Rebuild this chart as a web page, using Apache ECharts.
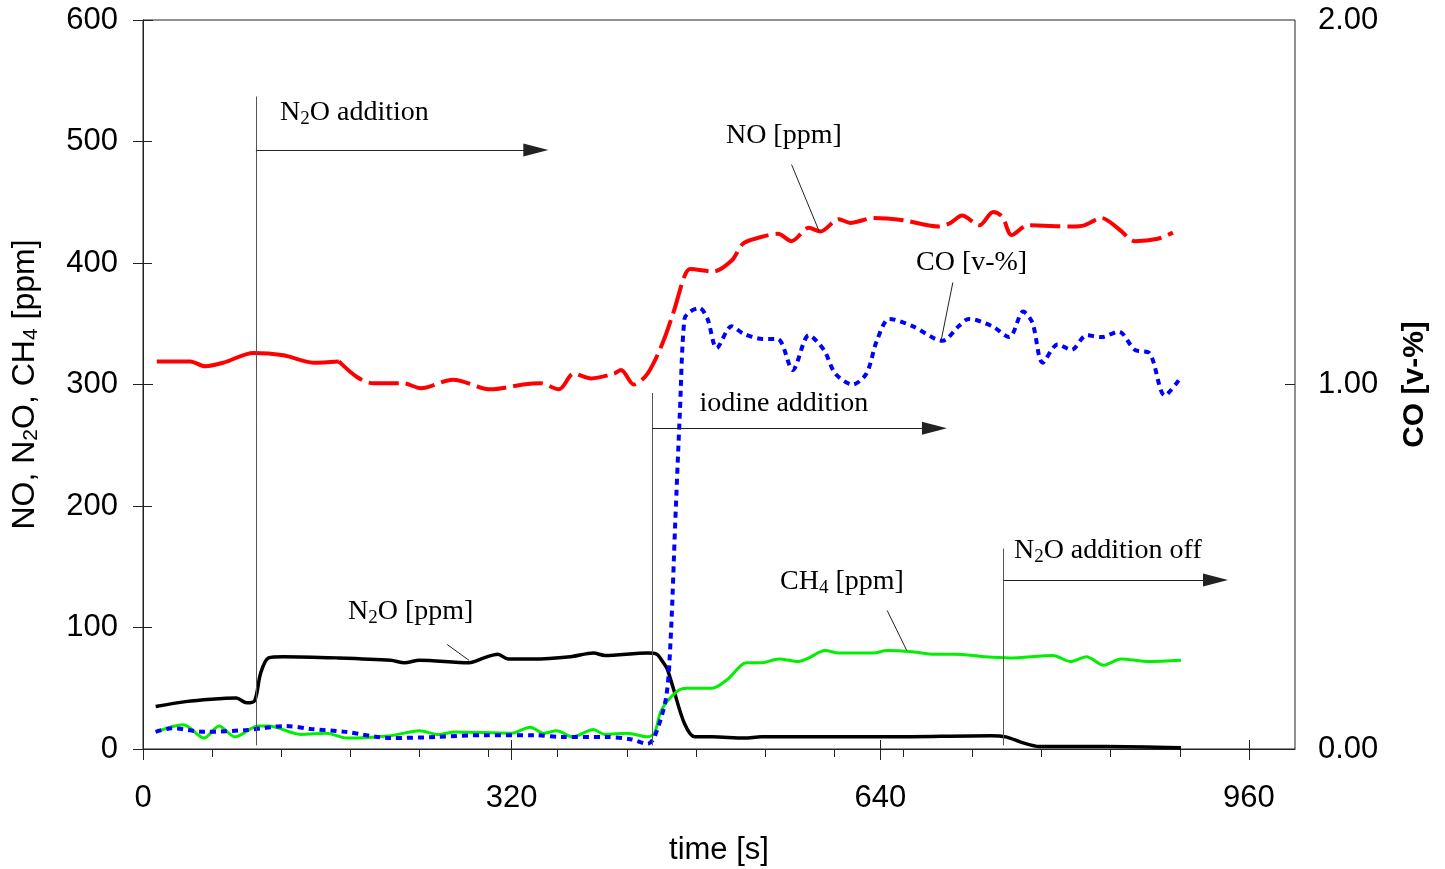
<!DOCTYPE html>
<html>
<head>
<meta charset="utf-8">
<script src="https://cdn.jsdelivr.net/npm/echarts@6/dist/echarts.min.js"></script>
<style>
  html, body { margin: 0; padding: 0; background: #fff; }
  #chart { width: 1445px; height: 869px; }
</style>
</head>
<body>
<div id="chart"></div>
<script>
// time [s] / value pairs
const noPpm = [[12,319],[41,319],[54,315],[70,318],[96,326],[122,324],[148,318],[170,319],[186,306],[200,301],[226,301],[241,297],[269,304],[302,296],[330,300],[345,301],[361,296],[374,309],[389,305],[409,309],[415,312],[426,300],[438,309],[451,334],[461,361],[470,389],[475,395],[495,393],[511,402],[521,416],[535,421],[551,424],[563,418],[578,429],[588,426],[604,436],[614,433],[634,437],[661,435],[691,430],[701,433],[711,439],[726,431],[738,442],[746,438],[754,423],[768,431],[807,430],[817,431],[832,437],[847,428],[861,418],[881,420],[894,425]];

const coPct = [[11,0.047],[25,0.057],[53,0.047],[90,0.052],[124,0.063],[146,0.055],[176,0.047],[215,0.03],[255,0.033],[296,0.038],[339,0.038],[364,0.033],[401,0.033],[423,0.027],[438,0.014],[444,0.033],[454,0.14],[458,0.30],[462,0.62],[466,0.92],[470,1.18],[475,1.20],[483,1.21],[490,1.18],[498,1.10],[511,1.16],[521,1.14],[538,1.125],[551,1.125],[564,1.04],[578,1.135],[591,1.095],[601,1.03],[616,1.0],[628,1.03],[637,1.12],[648,1.18],[668,1.16],[694,1.12],[708,1.16],[717,1.18],[737,1.16],[752,1.13],[764,1.20],[772,1.17],[781,1.06],[794,1.11],[806,1.095],[819,1.135],[832,1.13],[847,1.145],[861,1.095],[874,1.085],[887,0.97],[901,1.02]];

const ch4Ppm = [[11,14],[35,20],[53,9],[66,19],[80,10],[100,19],[109,19],[137,12],[159,13],[177,9],[215,11],[240,15],[256,12],[271,14],[320,13],[336,18],[348,13],[359,15],[373,10],[391,16],[401,12],[420,13],[438,10],[444,13],[450,32],[463,47],[472,50],[494,50],[507,57],[524,71],[537,71],[552,74],[569,72],[578,75],[592,81],[604,79],[634,79],[646,81],[668,80],[687,78],[705,78],[730,76],[752,75],[790,77],[805,72],[819,76],[834,69],[849,74],[873,72],[901,73]];

const n2oPpm = [[11,35],[37,39],[59,41],[81,42],[90,38],[97,40],[102,62],[109,75],[122,76],[168,75],[215,73],[227,71],[240,73],[283,71],[296,75],[308,78],[317,74],[339,74],[371,76],[391,79],[401,77],[438,79],[446,78],[451,72],[455,66],[460,51],[470,21],[479,10],[494,10],[522,9],[537,10],[588,10],[649,10],[736,11],[749,10],[764,5],[778,2],[836,2],[901,1]];

// axis ticks
const xMajor = [0, 320, 640, 960];
const xMinor = [0,60,120,180,240,300,360,420,480,540,600,660,720,780,840,900,960];

// event lines [t, vTop, vBottom], arrows [tStart, tEnd, v], leaders [t1,v1,t2,v2]
const eventLines = [[98,537,3],[442,293,3],[747,165,3]];
const arrows = [[98,341,493],[442,687,264],[747,931,139]];
const leaders = [[563,481,587,426],[703,384,693,337],[264,86,283,73],[646,114,663,81]];
const notes = [
  [119,524,'N{sub|2}O addition'],
  [506,505,'NO [ppm]'],
  [671,400,'CO [v-%]'],
  [483,284,'iodine addition'],
  [756,163,'N{sub|2}O addition off'],
  [553,138,'CH{sub|4} [ppm]'],
  [178,113,'N{sub|2}O [ppm]']
];

const sans = 'Liberation Sans, Arial, sans-serif';
const serif = 'Liberation Serif, Times New Roman, serif';
const axisColor = '#222';

const chart = echarts.init(document.getElementById('chart'));

const markLines = [];
eventLines.forEach(e => markLines.push([{coord:[e[0],e[1]], symbol:'none', lineStyle:{color:'#555'}},{coord:[e[0],e[2]], symbol:'none'}]));
arrows.forEach(a => markLines.push([{coord:[a[0],a[2]], symbol:'none', lineStyle:{color:'#222'}},{coord:[a[1],a[2]], symbol:'triangle', symbolSize:[13,25]}]));
leaders.forEach(l => markLines.push([{coord:[l[0],l[1]], symbol:'none'},{coord:[l[2],l[3]], symbol:'none'}]));

// NO is drawn solid at first, dashed afterwards
const noSolid = noPpm.filter(p => p[0] <= 170);
const noDashed = noPpm.filter(p => p[0] >= 170);

const option = {
  animation: false,
  backgroundColor: '#fff',
  grid: {left: 143, right: 150, top: 20, bottom: 120, show: true, borderColor: axisColor, borderWidth: 1, outerBoundsMode: 'none'},
  xAxis: [
    {
      type: 'value', min: 0, max: 1000,
      name: 'time [s]', nameLocation: 'middle', nameGap: 86,
      nameTextStyle: {fontFamily: sans, fontSize: 31, color: '#000'},
      axisLine: {show: true, onZero: false, lineStyle: {color: axisColor}},
      axisTick: {show: true, length: 11, customValues: xMajor, lineStyle: {color: axisColor}},
      axisLabel: {customValues: xMajor, fontFamily: sans, fontSize: 31, color: '#000', margin: 34},
      splitLine: {show: false}
    },
    {
      type: 'value', min: 0, max: 1000, position: 'bottom',
      axisLine: {show: false},
      axisTick: {show: true, inside: true, length: 9, customValues: xMajor, lineStyle: {color: axisColor}},
      axisLabel: {show: false}, splitLine: {show: false}
    },
    {
      type: 'value', min: 0, max: 1000, position: 'bottom',
      axisLine: {show: false},
      axisTick: {show: true, length: 8, customValues: xMinor, lineStyle: {color: axisColor}},
      axisLabel: {show: false}, splitLine: {show: false}
    }
  ],
  yAxis: [
    {
      type: 'value', min: 0, max: 600, interval: 100, position: 'left',
      name: 'NO, N{sub|2}O, CH{sub|4} [ppm]', nameLocation: 'middle', nameGap: 101, nameRotate: 90,
      nameTextStyle: {fontFamily: sans, fontSize: 32, color: '#000',
        rich: {sub: {fontFamily: sans, fontSize: 21, color: '#000', padding: [13,0,0,0]}}},
      axisLine: {show: true, lineStyle: {color: axisColor}},
      axisTick: {show: true, length: 10, lineStyle: {color: axisColor}},
      axisLabel: {fontFamily: sans, fontSize: 31, color: '#000', margin: 25},
      splitLine: {show: false}
    },
    {
      type: 'value', min: 0, max: 2, interval: 1, position: 'right',
      name: 'CO [v-%]', nameLocation: 'middle', nameGap: 105, nameRotate: 90,
      nameTextStyle: {fontFamily: sans, fontSize: 30, fontWeight: 'bold', color: '#000'},
      axisLine: {show: true, lineStyle: {color: axisColor}},
      axisTick: {show: true, length: 10, lineStyle: {color: axisColor}},
      axisLabel: {fontFamily: sans, fontSize: 31, color: '#000', margin: 23, formatter: v => v.toFixed(2)},
      splitLine: {show: false}
    },
    {
      type: 'value', min: 0, max: 600, interval: 100, position: 'left',
      axisLine: {show: false},
      axisTick: {show: true, inside: true, length: 9, customValues: [0,100,200,300,400,500], lineStyle: {color: axisColor}},
      axisLabel: {show: false}, splitLine: {show: false}
    },
    {
      type: 'value', min: 0, max: 2, interval: 1, position: 'right',
      axisLine: {show: false},
      axisTick: {show: true, inside: true, length: 10, customValues: [0,1], lineStyle: {color: axisColor}},
      axisLabel: {show: false}, splitLine: {show: false}
    }
  ],
  series: [
    {
      name: 'N2O', type: 'line', data: n2oPpm, showSymbol: false, smooth: 0.3,
      lineStyle: {color: '#000', width: 3.5}
    },
    {
      name: 'CH4', type: 'line', data: ch4Ppm, showSymbol: false, smooth: 0.3,
      lineStyle: {color: '#00f000', width: 3}
    },
    {
      name: 'NO', type: 'line', data: noSolid, showSymbol: false, smooth: 0.3,
      lineStyle: {color: '#ff0000', width: 4}
    },
    {
      name: 'NO', type: 'line', data: noDashed, showSymbol: false, smooth: 0.3,
      lineStyle: {color: '#ff0000', width: 4, type: [30, 7]}
    },
    {
      name: 'CO', type: 'line', data: coPct, yAxisIndex: 1, showSymbol: false, smooth: 0.3,
      lineStyle: {color: '#0000ff', width: 4, type: [6, 5]}
    },
    {
      name: 'notes', type: 'line', data: [], silent: true,
      markLine: {
        silent: true, animation: false,
        label: {show: false},
        lineStyle: {color: '#222', width: 1, type: 'solid'},
        itemStyle: {color: '#000'},
        data: markLines
      },
      markPoint: {
        silent: true, animation: false,
        symbol: 'circle', symbolSize: 0.01,
        itemStyle: {color: 'transparent'},
        label: {
          show: true, position: 'right', distance: 0,
          fontFamily: serif, fontSize: 28, color: '#000',
          rich: {sub: {fontFamily: serif, fontSize: 19, color: '#000', padding: [13,0,0,0]}}
        },
        data: notes.map(n => ({coord: [n[0], n[1]], value: n[2], label: {formatter: n[2]}}))
      }
    }
  ]
};

chart.setOption(option);
</script>
</body>
</html>
